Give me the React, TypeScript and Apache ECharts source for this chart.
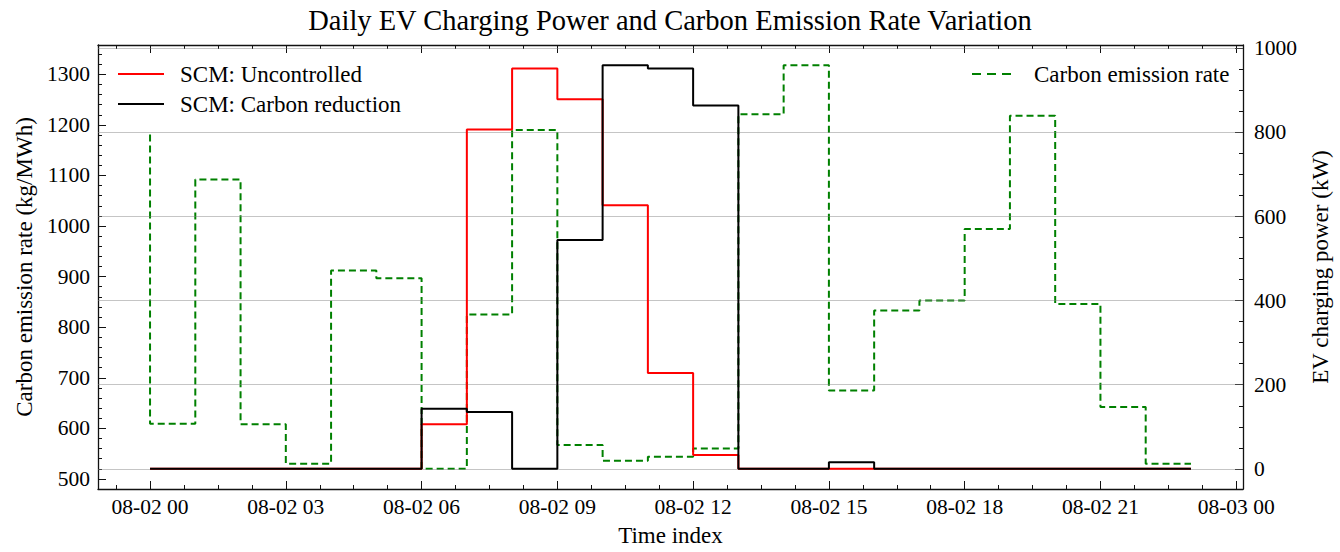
import React, { useEffect, useRef } from 'react';
import * as echarts from 'echarts';

// Hourly samples for 08-02 (hour index 0..23)
const hours = [0, 1, 2, 3, 4, 5, 6, 7, 8, 9, 10, 11, 12, 13, 14, 15, 16, 17, 18, 19, 20, 21, 22, 23];

// Grid carbon emission rate (kg/MWh)
const carbonRate = [1181, 609, 1092, 608, 530, 912, 897, 520, 825, 1190, 567, 536, 544, 560, 1221, 1318, 675, 833, 853, 994, 1218, 846, 642, 530];

// EV charging power (kW)
const uncontrolledPower = [0, 0, 0, 0, 0, 0, 0, 106, 807, 952, 879, 627, 228, 33, 0, 0, 0, 0, 0, 0, 0, 0, 0, 0];
const carbonReductionPower = [0, 0, 0, 0, 0, 0, 0, 143, 135, 0, 544, 960, 952, 864, 0, 0, 15.5, 0, 0, 0, 0, 0, 0, 0];

// Tick positions and labels
const xTickHours = [0, 3, 6, 9, 12, 15, 18, 21, 24];
const xTickLabels = ['08-02 00', '08-02 03', '08-02 06', '08-02 09', '08-02 12', '08-02 15', '08-02 18', '08-02 21', '08-03 00'];
const carbonTicks = [500, 600, 700, 800, 900, 1000, 1100, 1200, 1300];
const powerTicks = [0, 200, 400, 600, 800, 1000];

const FONT = "'Liberation Serif', 'DejaVu Serif', serif";
const FRAME = '#111111';

// 5% padding on each side of the data range
function padded(values: number[]): [number, number] {
  const lo = Math.min(...values);
  const hi = Math.max(...values);
  const m = (hi - lo) * 0.05;
  return [lo - m, hi + m];
}

// Minor tick positions between the given bounds, skipping major positions
function minorTicks(lo: number, hi: number, step: number, major: number): number[] {
  const out: number[] = [];
  const start = Math.ceil(lo / step) * step;
  for (let v = start; v <= hi + 1e-9; v += step) {
    const r = Math.round(v * 1000) / 1000;
    if (Math.abs(r / major - Math.round(r / major)) > 1e-6) out.push(r);
  }
  return out;
}

export default function App() {
  const ref = useRef<HTMLDivElement>(null);

  useEffect(() => {
    if (!ref.current) return;
    const chart = echarts.init(ref.current, undefined, { renderer: 'svg' });

    const [xMin, xMax] = padded(hours);
    const [cMin, cMax] = padded(carbonRate);
    const [pMin, pMax] = padded([...uncontrolledPower, ...carbonReductionPower]);

    const xMinor = minorTicks(xMin, xMax, 0.75, 3);
    const cMinor = minorTicks(cMin, cMax, 20, 100);
    const pMinor = minorTicks(pMin, pMax, 50, 200);

    const tickLine = { color: FRAME, width: 1 };
    const frameLine = { color: FRAME, width: 1.3 };
    const labelStyle = { fontFamily: FONT, fontSize: 21.5, color: '#000' };
    const nameStyle = { fontFamily: FONT, fontSize: 23, color: '#000' };
    const plain = (v: number) => String(Math.round(v));

    const xBase = { type: 'value', min: xMin, max: xMax, splitLine: { show: false } };
    const cBase = { type: 'value', min: cMin, max: cMax, splitLine: { show: false } };
    const pBase = { type: 'value', min: pMin, max: pMax, splitLine: { show: false } };

    const pairs = (vals: number[]) => hours.map((h, i) => [h, vals[i]]);

    chart.setOption({
      animation: false,
      backgroundColor: '#ffffff',
      title: {
        text: 'Daily EV Charging Power and Carbon Emission Rate Variation',
        left: 'center',
        top: 6,
        padding: 0,
        textStyle: { fontFamily: FONT, fontSize: 28.5, fontWeight: 'normal', color: '#000' },
      },
      grid: { left: 98, right: 86, top: 45, bottom: 58, containLabel: false },
      legend: [
        {
          data: ['SCM: Uncontrolled', 'SCM: Carbon reduction'],
          orient: 'vertical',
          left: 117,
          top: 62,
          padding: 0,
          itemWidth: 46,
          itemHeight: 14,
          itemGap: 6,
          selectedMode: false,
          itemStyle: { opacity: 0 },
          textStyle: { fontFamily: FONT, fontSize: 23, color: '#000', lineHeight: 24, padding: [0, 0, 0, 11] },
        },
        {
          data: ['Carbon emission rate'],
          orient: 'vertical',
          left: 971,
          top: 62,
          padding: 0,
          itemWidth: 39,
          itemHeight: 14,
          selectedMode: false,
          itemStyle: { opacity: 0 },
          lineStyle: { type: [9, 6] },
          textStyle: { fontFamily: FONT, fontSize: 23, color: '#000', lineHeight: 24, padding: [0, 0, 0, 18] },
        },
      ],
      xAxis: [
        {
          ...xBase,
          position: 'bottom',
          axisLine: { show: true, onZero: false, lineStyle: frameLine },
          axisTick: { show: true, inside: true, length: 8, customValues: xTickHours, lineStyle: tickLine },
          axisLabel: {
            customValues: xTickHours,
            margin: 7,
            ...labelStyle,
            formatter: (v: number) => {
              const i = xTickHours.indexOf(Math.round(v));
              return i >= 0 ? xTickLabels[i] : '';
            },
          },
          name: 'Time index',
          nameLocation: 'middle',
          nameGap: 35,
          nameTextStyle: nameStyle,
        },
        {
          ...xBase,
          position: 'bottom',
          axisLine: { show: false, onZero: false },
          axisTick: { show: true, inside: true, length: 4, customValues: xMinor, lineStyle: tickLine },
          axisLabel: { show: false },
        },
        {
          ...xBase,
          position: 'top',
          axisLine: { show: true, onZero: false, lineStyle: frameLine },
          axisTick: { show: true, inside: true, length: 8, customValues: xTickHours, lineStyle: tickLine },
          axisLabel: { show: false },
        },
        {
          ...xBase,
          position: 'top',
          axisLine: { show: false, onZero: false },
          axisTick: { show: true, inside: true, length: 4, customValues: xMinor, lineStyle: tickLine },
          axisLabel: { show: false },
        },
      ],
      yAxis: [
        {
          ...cBase,
          position: 'left',
          axisLine: { show: true, onZero: false, lineStyle: frameLine },
          axisTick: { show: true, inside: true, length: 8, customValues: carbonTicks, lineStyle: tickLine },
          axisLabel: { customValues: carbonTicks, margin: 8, formatter: plain, ...labelStyle },
          name: 'Carbon emission rate (kg/MWh)',
          nameLocation: 'middle',
          nameRotate: 90,
          nameGap: 60,
          nameTextStyle: nameStyle,
        },
        {
          ...cBase,
          position: 'left',
          axisLine: { show: false, onZero: false },
          axisTick: { show: true, inside: true, length: 4, customValues: cMinor, lineStyle: tickLine },
          axisLabel: { show: false },
        },
        {
          ...pBase,
          position: 'right',
          axisLine: { show: true, onZero: false, lineStyle: frameLine },
          axisTick: { show: true, inside: true, length: 8, customValues: powerTicks, lineStyle: tickLine },
          axisLabel: { customValues: powerTicks, margin: 11, formatter: plain, ...labelStyle },
          name: 'EV charging power (kW)',
          nameLocation: 'middle',
          nameRotate: 90,
          nameGap: 66,
          nameTextStyle: nameStyle,
        },
        {
          ...pBase,
          position: 'right',
          axisLine: { show: false, onZero: false },
          axisTick: { show: true, inside: true, length: 4, customValues: pMinor, lineStyle: tickLine },
          axisLabel: { show: false },
        },
      ],
      series: [
        {
          name: 'Carbon emission rate',
          type: 'line',
          xAxisIndex: 0,
          yAxisIndex: 0,
          step: 'start',
          data: pairs(carbonRate),
          symbol: 'none',
          showSymbol: false,
          z: 1,
          itemStyle: { color: '#008000' },
          lineStyle: { color: '#008000', width: 2, type: [7, 4] },
        },
        {
          name: 'SCM: Uncontrolled',
          type: 'line',
          xAxisIndex: 0,
          yAxisIndex: 2,
          step: 'start',
          data: pairs(uncontrolledPower),
          symbol: 'none',
          showSymbol: false,
          z: 3,
          itemStyle: { color: '#ff0000' },
          lineStyle: { color: '#ff0000', width: 2 },
          // translucent horizontal grid lines at the power-axis ticks
          markLine: {
            silent: true,
            z: 2,
            symbol: ['none', 'none'],
            label: { show: false },
            lineStyle: { color: 'rgba(128,128,128,0.46)', width: 1.2, type: 'solid' },
            data: powerTicks.map((v) => ({ yAxis: v })),
          },
        },
        {
          name: 'SCM: Carbon reduction',
          type: 'line',
          xAxisIndex: 0,
          yAxisIndex: 2,
          step: 'start',
          data: pairs(carbonReductionPower),
          symbol: 'none',
          showSymbol: false,
          z: 4,
          itemStyle: { color: '#000000' },
          lineStyle: { color: '#000000', width: 2 },
        },
      ],
    });

    return () => chart.dispose();
  }, []);

  return (
    <div
      ref={ref}
      style={{ position: 'fixed', left: 0, top: 0, width: 1340, height: 552, background: '#fff' }}
    />
  );
}
